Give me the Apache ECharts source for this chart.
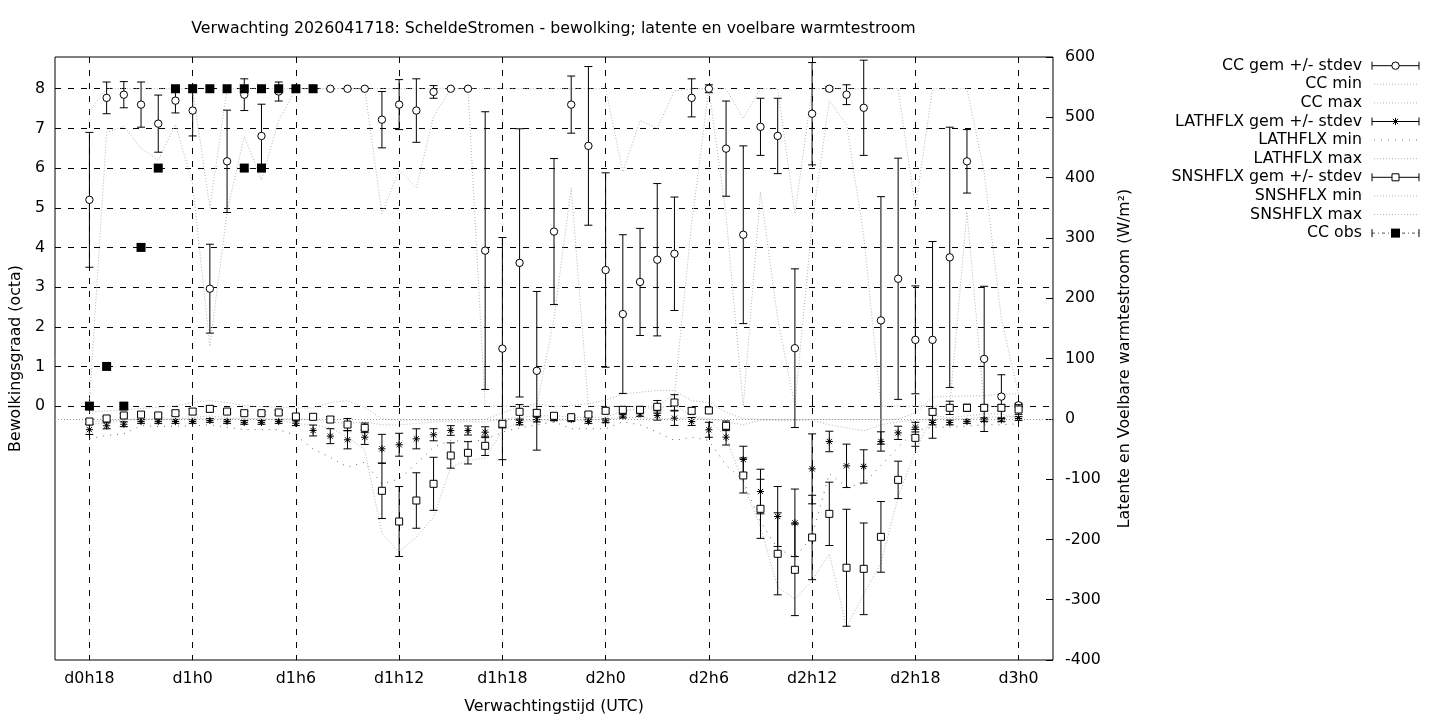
<!DOCTYPE html>
<html>
<head>
<meta charset="utf-8">
<script src="https://cdn.jsdelivr.net/npm/echarts@6/dist/echarts.min.js"></script>
<style>html,body{margin:0;padding:0;background:#fff;}#c{width:1440px;height:720px;}</style>
</head>
<body>
<div id="c"></div>
<script>
// ---- data (hours since d0h0) ----
const hours = [18,19,20,21,22,23,24,25,26,27,28,29,30,31,32,33,34,35,36,37,38,39,40,41,42,43,44,45,46,47,48,49,50,51,52,53,54,55,56,57,58,59,60,61,62,63,64,65,66,67,68,69,70,71,72];
const xTicks = [18,24,30,36,42,48,54,60,66,72];
const xTickLabels = ['d0h18','d1h0','d1h6','d1h12','d1h18','d2h0','d2h6','d2h12','d2h18','d3h0'];
const ccTicks = [0,1,2,3,4,5,6,7,8];

const ccMean = [5.20,7.77,7.85,7.60,7.12,7.70,7.45,2.96,6.17,7.85,6.81,7.93,8.0,8.0,8.0,8.0,8.0,7.22,7.60,7.45,7.92,8.0,8.0,3.92,1.45,3.61,0.89,4.40,7.60,6.56,3.43,2.32,3.13,3.69,3.84,7.77,8.0,6.49,4.32,7.04,6.81,1.46,7.37,8.0,7.85,7.52,2.16,3.21,1.67,1.67,3.75,6.17,1.19,0.24,0.02];
const ccSd   = [1.70,0.40,0.33,0.57,0.72,0.31,0.64,1.12,1.29,0.40,0.80,0.24,0,0,0,0,0,0.71,0.63,0.80,0.16,0,0,3.50,2.80,3.38,2.00,1.84,0.72,2.00,2.45,2.00,1.35,1.92,1.43,0.48,0.10,1.20,2.24,0.72,0.95,2.00,1.29,0.05,0.25,1.20,3.12,3.04,1.36,2.48,3.28,0.80,1.83,0.55,0.05];
const ccMin  = [0.1,6.9,7.05,6.5,6.2,7.1,5.6,1.5,4.9,6.8,5.7,7.2,8,8,8,8,8,4.85,5.95,5.5,7.3,8,8,0,0,0,0,2.2,5.5,0,0,0,0,0,0.3,4.6,8,4.8,0,5.4,2.2,0,4.6,7.7,7.1,4.3,0,0,0,0,0,4.9,0,0,0];
const ccMax  = [7.45,8,8,8,8,8,8,5.0,8,8,8,8,8,8,8,8,8,8,8,8,8,8,8,8,8,8,8,8,8,8,8,5.9,7.2,7.0,7.95,8,8,8,7.25,8,8,4.85,8,8,8,8,8,8,5.0,8,8,8,5.9,2.2,0.3];

const lathMean = [-18,-11.6,-9,-4.5,-4.5,-4.5,-4.5,-2.8,-4.5,-6,-6,-4.5,-7.3,-19.4,-28.8,-34.8,-30.5,-49.8,-43,-33.2,-26.5,-19.4,-19.4,-22.2,-10,-6.1,-1.2,0,-1.2,-4.5,-3.4,4.4,8.2,5.5,1,-4.5,-18.2,-30.5,-67.5,-120.6,-162,-172.5,-83,-37.6,-78,-79,-37.6,-23.3,-13.8,-6.1,-6.1,-4.5,-1.7,-1.7,0.5];
const lathSd   = [8,5,4,3,3,3,3,3,3,3,3,3,4,9,12.4,15,12,24,19,16.6,10,8,7.5,9,5,4,4,3,3,3,3,3,4,7.7,12,6.6,12.4,13,22,37,49.7,56,58,17,36,27.6,16,11,8,4,4,3,3,3,3];
const lathMin  = [-33,-27.6,-25,-11,-13,-12,-12,-10,-14,-18,-18,-18,-27.6,-50,-64,-80,-72,-108,-99.5,-74.6,-47,-36,-37.6,-34.8,-22,-15,-10,-5,-16.6,-16.6,-16.6,-5,-10,-22,-36,-30.5,-36,-77,-102,-171,-215,-230,-195,-91,-113,-108,-77.4,-47,-19.4,-14,-14,-12,-10,-10,-8];
const lathMax  = [-5,-3,-2,0,0,0,0,0,0,0,0,0,0,-2,-5,-8,-5,-10,-10,-8,-5,-5,-5,-5,0,2,5,5,3,2,3,12,18,18,22,5,0,-5,-10,-2,-3,-3,-2,-10,-15,-20,-10,-5,-2,0,0,0,3,3,5];

const snshMean = [-4.5,0.5,5.5,7,5.5,9.3,12,16.5,12,9.3,9.3,10.5,3.8,3.3,-1.2,-9.5,-15,-119.4,-170.3,-135.5,-107.8,-60.9,-56.4,-44.8,-8.3,11.6,9.9,5,2.7,7.1,13.2,14.9,14.9,19.9,27,13.2,13.8,-11.6,-94,-149.3,-223.9,-250.4,-196.8,-157.6,-247,-248.8,-195.8,-101.3,-31.6,11.5,18.2,18.2,18.2,18.2,15.4];
const snshSd   = [4,3,3,3,3,4,5,5,3,3,3,3,4,4,5,10,8,46,58,46,44,21,18.5,16,5,12,5,3,3,3,4,5,5,10.5,13,5,5,8,29,49,68,76,70,52.5,97,76,58.6,31,14,5,11,6,5,5,8];
const snshMin  = [-10,-6,-2,0,-2,0,2,5,2,0,0,-2,-8,-10,-15,-30,-52,-190,-221,-196,-163,-80,-69,-65,-20,-5,-2,-2,-3,-2,0,2,2,0,0,2,-2,-30,-108,-180,-279,-299,-268,-224,-346,-290,-240,-130,-53,5,2,5,8,8,0];
const snshMax  = [11,13,15,17,19,22,27,30,27,22,20,19,18,18,27,30,19,0,-2,-2,-2,-2,-2,-1,10,20,25,20,22,25,31,41,44,47,47,30,27,11,0,-1,-1,-1,-1,-1,-1,-1,-1,-1,10,36,37,38,38,41,41];

const obsHours  = [18,19,20,21,22,23,24,25,26,27,27,28,28,29,30,31];
const obsValues = [0,1,0,4,6,8,8,8,8,8,6,8,6,8,8,8];

const legendNames = ['CC gem +/- stdev','CC min','CC max','LATHFLX gem +/- stdev','LATHFLX min','LATHFLX max','SNSHFLX gem +/- stdev','SNSHFLX min','SNSHFLX max','CC obs'];

// ---- styling ----
const FONT = 'DejaVu Sans';
const FS = 15.8;
const FINE = '#b4b4b4';
const SPARSE = '#6a6a6a';

function markerShapes(kind, cx, cy) {
  const r = 3.7;
  const st = {stroke:'#000', lineWidth:1, fill:'#fff'};
  if (kind === 'circle') return [{type:'circle', shape:{cx, cy, r}, style:st}];
  if (kind === 'square') return [{type:'rect', shape:{x:cx-3.5, y:cy-3.5, width:7, height:7}, style:st}];
  if (kind === 'filled') return [{type:'rect', shape:{x:cx-4.5, y:cy-4.5, width:9, height:9}, style:{fill:'#000'}}];
  // asterisk
  const s = {stroke:'#000', lineWidth:1};
  const d = 3.6, e = 2.6;
  return [
    {type:'line', shape:{x1:cx-d, y1:cy, x2:cx+d, y2:cy}, style:s},
    {type:'line', shape:{x1:cx, y1:cy-d, x2:cx, y2:cy+d}, style:s},
    {type:'line', shape:{x1:cx-e, y1:cy-e, x2:cx+e, y2:cy+e}, style:s},
    {type:'line', shape:{x1:cx-e, y1:cy+e, x2:cx+e, y2:cy-e}, style:s}
  ];
}

function errSeries(name, mean, sd, kind, yAxisIndex, z) {
  return {
    name, type:'custom', yAxisIndex, z,
    data: hours.map((h,i)=>[h, mean[i], mean[i]-sd[i], mean[i]+sd[i]]),
    encode:{x:0, y:[1,2,3]},
    renderItem(params, api) {
      const x = api.value(0);
      const c = api.coord([x, api.value(1)]);
      const lo = api.coord([x, api.value(2)]);
      const hi = api.coord([x, api.value(3)]);
      const cap = 4;
      const st = {stroke:'#000', lineWidth:1};
      const children = [
        {type:'line', shape:{x1:c[0], y1:lo[1], x2:c[0], y2:hi[1]}, style:st},
        {type:'line', shape:{x1:c[0]-cap, y1:lo[1], x2:c[0]+cap, y2:lo[1]}, style:st},
        {type:'line', shape:{x1:c[0]-cap, y1:hi[1], x2:c[0]+cap, y2:hi[1]}, style:st}
      ].concat(markerShapes(kind, c[0], c[1]));
      return {type:'group', children};
    }
  };
}

function envSeries(name, vals, yAxisIndex, color, dash) {
  return {
    name, type:'line', yAxisIndex, z:2,
    data: hours.map((h,i)=>[h, vals[i]]),
    showSymbol:false, symbol:'none', silent:true,
    lineStyle:{color, width:1, type:dash}
  };
}

const series = [
  // zero line of the flux axis
  {
    name:'zero', type:'line', yAxisIndex:1, data:[], silent:true,
    markLine:{silent:true, symbol:'none', label:{show:false},
      lineStyle:{color:'#9a9a9a', type:[1,2], width:1},
      data:[{yAxis:0}]}
  },
  envSeries('CC min', ccMin, 0, FINE, [1,2]),
  envSeries('CC max', ccMax, 0, FINE, [1,2]),
  envSeries('LATHFLX min', lathMin, 1, SPARSE, [1,6]),
  envSeries('LATHFLX max', lathMax, 1, FINE, [1,2]),
  envSeries('SNSHFLX min', snshMin, 1, FINE, [1,2]),
  envSeries('SNSHFLX max', snshMax, 1, FINE, [1,2]),
  errSeries('CC gem +/- stdev', ccMean, ccSd, 'circle', 0, 4),
  errSeries('LATHFLX gem +/- stdev', lathMean, lathSd, 'asterisk', 1, 4),
  errSeries('SNSHFLX gem +/- stdev', snshMean, snshSd, 'square', 1, 5),
  {
    name:'CC obs', type:'scatter', yAxisIndex:0, z:6,
    data: obsHours.map((h,i)=>[h, obsValues[i]]),
    symbol:'rect', symbolSize:9, itemStyle:{color:'#000', opacity:1}
  }
];

// ---- legend (gnuplot style key: text right aligned, sample to the right) ----
const KEY_TEXT_X = 1362, KEY_Y0 = 65.7, KEY_DY = 18.6, S0 = 1372, S1 = 1419, SC = 1395.5;
const sampleKinds = ['err-circle','fine','fine','err-asterisk','sparse','fine','err-square','fine','fine','obs'];
const graphic = [];
legendNames.forEach((nm, i) => {
  const y = KEY_Y0 + i*KEY_DY;
  graphic.push({type:'text', x:KEY_TEXT_X, y, style:{text:nm, fill:'#000', font:FS+'px "'+FONT+'"', textAlign:'right', textVerticalAlign:'middle'}});
  const k = sampleKinds[i];
  const st = {stroke:'#000', lineWidth:1};
  if (k.startsWith('err') || k === 'obs') {
    const lineSt = k === 'obs' ? {stroke:'#555', lineWidth:1, lineDash:[3,3,1,3]} : st;
    graphic.push({type:'line', shape:{x1:S0, y1:y, x2:S1, y2:y}, style:lineSt});
    graphic.push({type:'line', shape:{x1:S0, y1:y-4, x2:S0, y2:y+4}, style:st});
    graphic.push({type:'line', shape:{x1:S1, y1:y-4, x2:S1, y2:y+4}, style:st});
    const kind = k === 'obs' ? 'filled' : k.split('-')[1];
    markerShapes(kind, SC, y).forEach(m => { m.z = 10; graphic.push(m); });
  } else {
    graphic.push({type:'line', shape:{x1:S0+2, y1:y, x2:S1-2, y2:y},
      style:{stroke: k==='sparse'?SPARSE:FINE, lineWidth:1, lineDash: k==='sparse'?[1,6]:[1,2]}});
  }
});
graphic.push({type:'text', x:553.5, y:29, style:{
  text:'Verwachting 2026041718: ScheldeStromen - bewolking; latente en voelbare warmtestroom',
  fill:'#000', font:FS+'px "'+FONT+'"', textAlign:'center', textVerticalAlign:'middle'}});

const axisFont = {color:'#000', fontSize:FS, fontFamily:FONT};

const option = {
  animation:false,
  backgroundColor:'#fff',
  grid:{left:55, top:57, width:998, height:603, show:true, borderColor:'#000', borderWidth:1, backgroundColor:'transparent', containLabel:false},
  xAxis:{
    type:'value', min:16, max:74,
    axisLine:{show:false},
    axisTick:{show:true, inside:true, length:6, customValues:xTicks, lineStyle:{color:'#000'}},
    axisLabel:Object.assign({customValues:xTicks, margin:11, formatter:v => xTickLabels[xTicks.indexOf(v)]}, axisFont),
    splitLine:{show:true, lineStyle:{color:'#000', width:1, type:[6,7]}},
    name:'Verwachtingstijd (UTC)', nameLocation:'middle', nameGap:39,
    nameTextStyle:axisFont
  },
  yAxis:[{
    type:'value', min:-6.4, max:8.8, position:'left',
    axisLine:{show:false},
    axisTick:{show:true, inside:true, length:6, customValues:ccTicks, lineStyle:{color:'#000'}},
    axisLabel:Object.assign({customValues:ccTicks, margin:10}, axisFont),
    splitLine:{show:true, lineStyle:{color:'#000', width:1, type:[6,7]}},
    name:'Bewolkingsgraad (octa)', nameLocation:'middle', nameRotate:90, nameGap:25,
    nameTextStyle:axisFont
  },{
    type:'value', min:-400, max:600, interval:100, position:'right',
    axisLine:{show:false},
    axisTick:{show:true, inside:true, length:7, lineStyle:{color:'#000'}},
    axisLabel:Object.assign({margin:12}, axisFont),
    splitLine:{show:false},
    name:'Latente en Voelbare warmtestroom (W/m²)', nameLocation:'middle', nameRotate:90, nameGap:64,
    nameTextStyle:axisFont
  }],
  series,
  graphic
};

const chart = echarts.init(document.getElementById('c'), null, {renderer:'canvas'});
chart.setOption(option);
</script>
</body>
</html>
